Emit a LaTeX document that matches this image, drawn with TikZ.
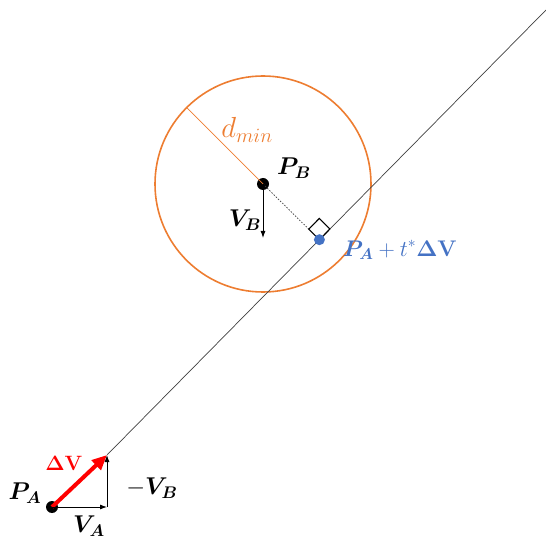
\RequirePackage{fix-cm}
\documentclass[tikz,border=0pt]{standalone}
\usepackage{amsmath,amssymb,bm}
\usepackage{tikz}
\usetikzlibrary{arrows.meta,positioning,calc}
\definecolor{ZoneOrange}{HTML}{ED7D31}
\definecolor{HitBlue}{HTML}{4472C4}
\definecolor{PathGray}{HTML}{404040}
\newcommand{\biglbl}[2][1.17]{\scalebox{#1}{#2}}

\begin{document}
\begin{tikzpicture}[x=1pt,y=1pt,
  dot/.style={circle,fill,inner sep=0pt,minimum size=12pt},
  vec/.style={-{Latex[length=7pt,width=5pt]},black,line width=0.9pt},
  lbl/.style={font=\fontsize{20.74}{25}\selectfont}]
  \useasboundingbox (0,0) rectangle (546,544);
  % safety zone round B
  \node[circle,draw=ZoneOrange,line width=1.6pt,minimum size=216pt,inner sep=0pt] (zone) at (263,360) {};
  \node[dot] (PB) at (263,360) {};
  \draw[ZoneOrange,line width=0.7pt] (PB.center) -- (zone.135);
  \node[ZoneOrange,font=\fontsize{29}{33}\selectfont] (dmin) at (247,414) {$d_{min}$};
  % relative path of A
  \node[dot] (PA) at (52,37) {};
  \coordinate (tip) at (107,89);
  \coordinate (far) at (546,534);
  \coordinate (corner) at (107,37);
  \draw[PathGray,line width=0.7pt] (tip) -- (far);
  \draw[-{Triangle[length=15pt,width=13pt]},red,line width=4pt] (PA.center) -- (tip);
  \draw[vec] (PA.center) -- (corner);
  \draw[vec] (corner) -- (tip);
  % closest point
  \coordinate (foot) at ($(tip)!(PB)!(far)$);
  \coordinate (sqa) at ($(foot)!15pt!(PB)$);
  \coordinate (sqb) at ($(foot)!15pt!(far)$);
  \draw[PathGray,line width=0.7pt,dash pattern=on 1.5pt off 1.5pt] (PB.center) -- (sqa);
  \draw[line width=1.1pt] (foot) -- (sqa) -- ($(sqa)+(sqb)-(foot)$) -- (sqb) -- cycle;
  \node[dot,HitBlue,minimum size=11pt] (hit) at (foot) {};
  \coordinate (vb) at (263,306);
  \draw[vec] (PB.center) -- (vb);
  % labels
  \node[lbl] (PAlbl) at (25,51) {\biglbl{$\bm{P}_{\bm{A}}$}};
  \node[lbl,red] (dV) at (64,81) {$\mathbf{\Delta V}$};
  \node[lbl] (mVB) at (152,56) {\biglbl{$-\bm{V}_{\bm{B}}$}};
  \node[lbl] (VA) at (89,18) {\biglbl{$\bm{V}_{\bm{A}}$}};
  \node[lbl] (PBlbl) at (294,376) {\biglbl{$\bm{P}_{\bm{B}}$}};
  \node[lbl] (VB) at (245,324) {\biglbl{$\bm{V}_{\bm{B}}$}};
  \node[lbl,HitBlue] (hitlbl) at (400,294) {\biglbl[1.09]{$\bm{P}_{\bm{A}}+t^{*}\mathbf{\Delta V}$}};
\end{tikzpicture}
\end{document}
